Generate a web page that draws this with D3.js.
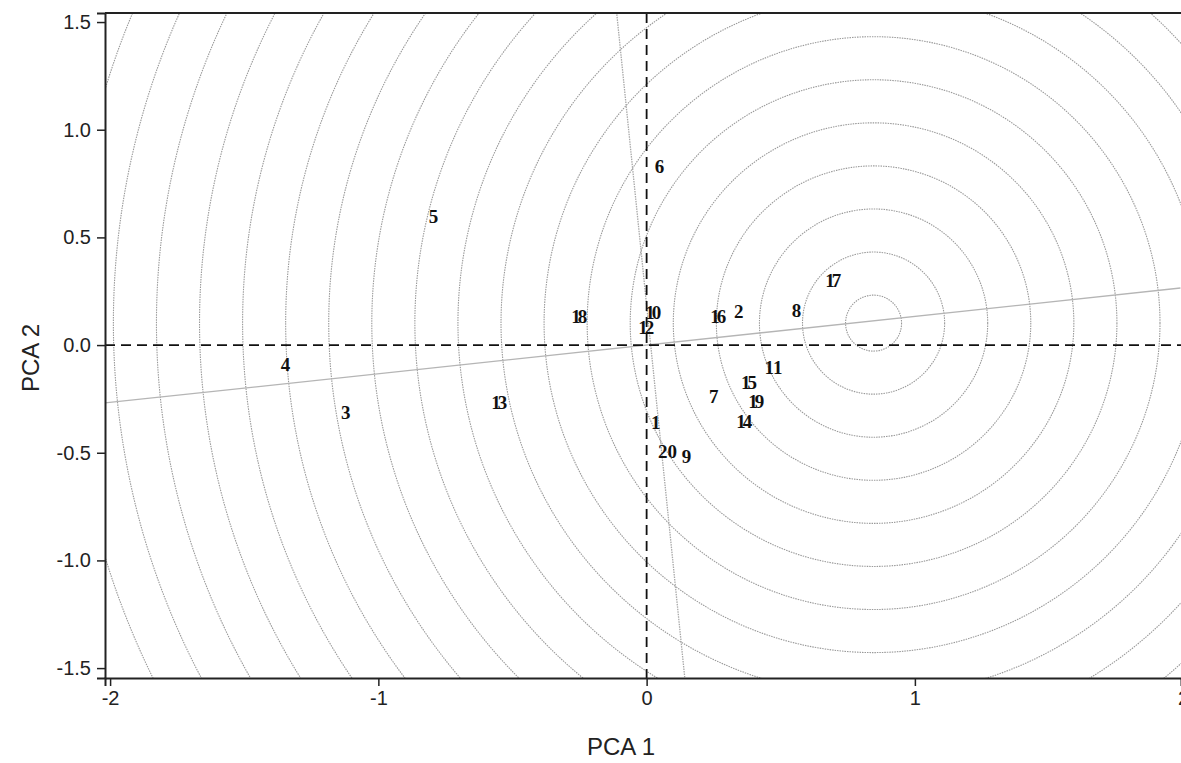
<!DOCTYPE html>
<html>
<head>
<meta charset="utf-8">
<script src="https://cdn.jsdelivr.net/npm/d3@7"></script>
<style>
  body { margin: 0; background: #fff; }
  .tick text { font-family: "Liberation Sans", Arial, sans-serif; font-size: 20px; fill: #222; }
  .tick line { stroke: #222; stroke-width: 1.5; }
  .domain { stroke: #222; stroke-width: 2; }
</style>
</head>
<body>
<div id="chart"></div>
<script>
// sample scores (PCA 1, PCA 2)
var ids = [1, 2, 3, 4, 5, 6, 7, 8, 9, 10, 11, 12, 13, 14, 15, 16, 17, 18, 19, 20];
var pca1 = [0.034, 0.343, -1.122, -1.346, -0.794, 0.048, 0.250, 0.559, 0.149, 0.019,
            0.473, -0.007, -0.555, 0.358, 0.376, 0.261, 0.690, -0.257, 0.403, 0.078];
var pca2 = [-0.358, 0.158, -0.311, -0.088, 0.599, 0.831, -0.237, 0.163, -0.516, 0.153,
            -0.102, 0.084, -0.265, -0.353, -0.172, 0.135, 0.302, 0.135, -0.260, -0.492];

// contour centre and radii (in PCA 2 units)
var contourCentre = [0.846, 0.102];
var contourRadii = d3.range(0, 22).map(function(k) { return 0.13 + 0.2 * k; });

// gradient axis lines
var axisLineA = [[-2.02, -0.269], [1.99, 0.265]];
var axisLineB = [[-0.112, 1.547], [0.142, -1.542]];

var xTicks = [-2, -1, 0, 1, 2];
var yTicks = [-1.5, -1.0, -0.5, 0.0, 0.5, 1.0, 1.5];

var W = 1181, H = 763;
var margin = { top: 13, right: 0, bottom: 85, left: 105 };
var width = W - margin.left - margin.right;
var height = H - margin.top - margin.bottom;

var svg = d3.select("#chart").append("svg")
    .attr("width", W)
    .attr("height", H);

var g = svg.append("g")
    .attr("transform", "translate(" + margin.left + "," + margin.top + ")");

var x = d3.scaleLinear().domain([-2.019, 1.992]).range([0, width]);
var y = d3.scaleLinear().domain([-1.546, 1.542]).range([height, 0]);

svg.append("defs").append("clipPath").attr("id", "clip")
  .append("rect").attr("width", width).attr("height", height);

var plot = g.append("g").attr("clip-path", "url(#clip)");

// concentric contours
var unit = y(0) - y(1);
plot.selectAll(".ring")
    .data(contourRadii)
  .enter().append("circle")
    .attr("class", "ring")
    .attr("cx", x(contourCentre[0]))
    .attr("cy", y(contourCentre[1]))
    .attr("r", function(d) { return d * unit; })
    .attr("fill", "none")
    .attr("stroke", "#9a9a9a")
    .attr("stroke-width", 1.1)
    .attr("stroke-dasharray", "1.5,1");

var line = d3.line().x(function(d) { return x(d[0]); }).y(function(d) { return y(d[1]); });

plot.append("path")
    .attr("d", line(axisLineA))
    .attr("fill", "none")
    .attr("stroke", "#b5b5b5")
    .attr("stroke-width", 1.3);

plot.append("path")
    .attr("d", line(axisLineB))
    .attr("fill", "none")
    .attr("stroke", "#a8a8a8")
    .attr("stroke-width", 1.3)
    .attr("stroke-dasharray", "1.5,1");

// zero reference lines
plot.append("line")
    .attr("x1", 0).attr("x2", width)
    .attr("y1", y(0)).attr("y2", y(0))
    .attr("stroke", "#111").attr("stroke-width", 1.8)
    .attr("stroke-dasharray", "10,6");

plot.append("line")
    .attr("x1", x(0)).attr("x2", x(0))
    .attr("y1", 0).attr("y2", height)
    .attr("stroke", "#111").attr("stroke-width", 1.8)
    .attr("stroke-dasharray", "10,6");

// sample labels
var loose = { 11: true, 20: true };
plot.selectAll(".lab")
    .data(ids)
  .enter().append("text")
    .attr("class", "lab")
    .attr("x", function(d, i) { return x(pca1[i]); })
    .attr("y", function(d, i) { return y(pca2[i]); })
    .attr("dy", "0.36em")
    .attr("text-anchor", "middle")
    .style("font-family", "'Liberation Serif', 'Times New Roman', serif")
    .style("font-weight", "bold")
    .style("font-size", "19px")
    .style("letter-spacing", function(d) { return d >= 10 && !loose[d] ? "-3px" : "0px"; })
    .attr("fill", "#111")
    .text(function(d) { return d; });

// axes
g.append("g")
    .attr("transform", "translate(0," + height + ")")
    .call(d3.axisBottom(x).tickValues(xTicks).tickFormat(function(d) { return String(d); })
      .tickSizeOuter(0).tickSize(8).tickPadding(5));

g.append("g")
    .call(d3.axisLeft(y).tickValues(yTicks).tickFormat(function(d) { return d.toFixed(1); })
      .tickSizeOuter(0).tickSize(8).tickPadding(6));

g.append("line")
    .attr("x1", 0).attr("x2", width)
    .attr("y1", 0).attr("y2", 0)
    .attr("stroke", "#222").attr("stroke-width", 2);

// axis titles
svg.append("text")
    .attr("x", 621)
    .attr("y", 755)
    .attr("text-anchor", "middle")
    .style("font-family", "'Liberation Sans', Arial, sans-serif")
    .style("font-size", "24px")
    .attr("fill", "#222")
    .text("PCA 1");

svg.append("text")
    .attr("transform", "translate(39,358) rotate(-90)")
    .attr("text-anchor", "middle")
    .style("font-family", "'Liberation Sans', Arial, sans-serif")
    .style("font-size", "24px")
    .attr("fill", "#222")
    .text("PCA 2");
</script>
</body>
</html>
